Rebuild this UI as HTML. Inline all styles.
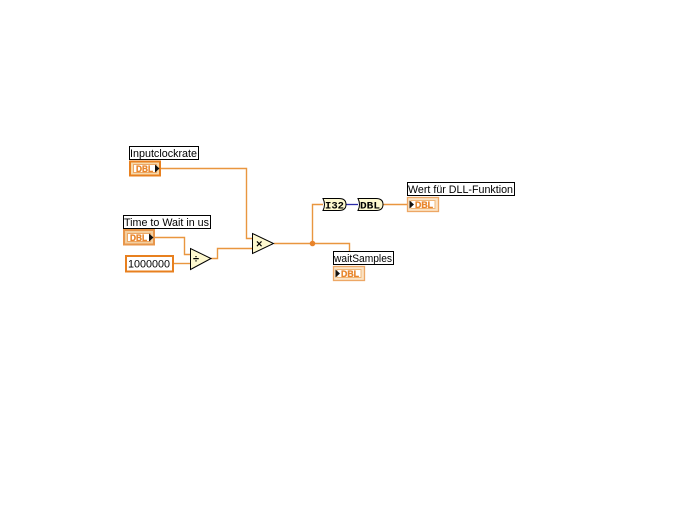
<!DOCTYPE html>
<html>
<head>
<meta charset="utf-8">
<style>
html,body{margin:0;padding:0;background:#fff;}
svg{display:block;}
text{font-family:"Liberation Sans",sans-serif;}
.d{font-size:9px;font-weight:bold;fill:#e8862c;stroke:#e8862c;stroke-width:.35px;}
</style>
</head>
<body>
<svg width="700" height="525" viewBox="0 0 700 525" xmlns="http://www.w3.org/2000/svg">
<rect width="700" height="525" fill="#fff"/>
<!-- wires -->
<g fill="none" stroke="#e9963f" stroke-width="1.4">
<path d="M161 168.500H246.500V238.500H252"/>
<path d="M155 237.500H184.500V254.500H190"/>
<path d="M174 263.500H190"/>
<path d="M211 258.500H217.500V248.500H252"/>
<path d="M274 243.500H349.500V251"/>
<path d="M312.500 243.500V204.500H323"/>
<path d="M383 204.500H407"/>
</g>
<path d="M346 204.500H358" stroke="#2a2aa8" stroke-width="1.300" fill="none"/>
<circle cx="312.500" cy="243.500" r="2.800" fill="#e8832a"/>

<!-- labels -->
<g fill="#fff" stroke="#000" stroke-width="1">
<rect x="129.500" y="146.500" width="69" height="13"/>
<rect x="123.500" y="215.500" width="87" height="13"/>
<rect x="407.500" y="182.500" width="107" height="13"/>
<rect x="333.500" y="251.500" width="60" height="13"/>
</g>
<g font-size="11" fill="#000">
<text x="130" y="157" textLength="67" lengthAdjust="spacingAndGlyphs">Inputclockrate</text>
<text x="124" y="226" textLength="85" lengthAdjust="spacingAndGlyphs">Time to Wait in us</text>
<text x="408" y="193" textLength="105" lengthAdjust="spacingAndGlyphs">Wert für DLL-Funktion</text>
<text x="334" y="262" textLength="58" lengthAdjust="spacingAndGlyphs">waitSamples</text>
</g>

<!-- control terminals -->
<g>
<rect x="130" y="161.500" width="30" height="14" fill="#f6d9ac" stroke="#e8801f" stroke-width="2"/>
<rect x="133.500" y="164.500" width="23" height="8" fill="#fff" stroke="#eda765" stroke-width="1"/>
<text class="d" x="136" y="172" textLength="17" lengthAdjust="spacingAndGlyphs">DBL</text>
<path d="M155 164.500L159.500 168.500L155 172.500Z" fill="#111"/>

<rect x="124" y="230" width="30" height="14.500" fill="#f3cfa0" stroke="#e8964a" stroke-width="2"/>
<rect x="127.500" y="233.500" width="23" height="8" fill="#fff" stroke="#eda765" stroke-width="1"/>
<text class="d" x="130" y="241" textLength="17" lengthAdjust="spacingAndGlyphs">DBL</text>
<path d="M149 233.500L153.500 237.500L149 241.500Z" fill="#111"/>
</g>

<!-- indicators -->
<g>
<rect x="407.500" y="197.500" width="31" height="14" fill="#fbe3c4" stroke="#eda765" stroke-width="1.300"/>
<rect x="411" y="200.500" width="24" height="8" fill="#fff" stroke="#f0b87a" stroke-width="1"/>
<text class="d" x="415" y="208" textLength="18" lengthAdjust="spacingAndGlyphs">DBL</text>
<path d="M409.500 200.500L414 204.500L409.500 208.500Z" fill="#111"/>

<rect x="333.500" y="266.500" width="31" height="14" fill="#fbe3c4" stroke="#eda765" stroke-width="1.300"/>
<rect x="337" y="269.500" width="24" height="8" fill="#fff" stroke="#f0b87a" stroke-width="1"/>
<text class="d" x="341" y="277" textLength="18" lengthAdjust="spacingAndGlyphs">DBL</text>
<path d="M335.500 269.500L340 273.500L335.500 277.500Z" fill="#111"/>
</g>

<!-- constant -->
<rect x="126" y="256" width="47" height="15.500" fill="#fff" stroke="#e8801f" stroke-width="2"/>
<text x="128" y="267.500" font-size="11" fill="#000" textLength="42" lengthAdjust="spacingAndGlyphs">1000000</text>

<!-- primitives -->
<path d="M190.500 248.500V269.500L211 258.500Z" fill="#fdf8cf" stroke="#000" stroke-width="1"/>
<text x="193" y="262.500" font-size="11" font-weight="bold" fill="#000">÷</text>
<path d="M252.500 233.500V253.500L273.500 243.500Z" fill="#fdf8cf" stroke="#000" stroke-width="1"/>
<text x="256" y="247.500" font-size="11" font-weight="bold" fill="#000">×</text>

<!-- conversion nodes -->
<path d="M323 198.500H339Q346 198.500 346 204.500Q346 210.500 339 210.500H323Q326 204.500 323 198.500Z" fill="#fdf8cf" stroke="#000" stroke-width="1"/>
<text x="325" y="208.500" font-size="10" font-weight="bold" fill="#000" style="font-family:'Liberation Mono',monospace" textLength="19" lengthAdjust="spacingAndGlyphs">I32</text>
<path d="M358 198.500H376Q383 198.500 383 204.500Q383 210.500 376 210.500H358Q361 204.500 358 198.500Z" fill="#fdf8cf" stroke="#000" stroke-width="1"/>
<text x="360" y="208.500" font-size="10" font-weight="bold" fill="#000" style="font-family:'Liberation Mono',monospace" textLength="20" lengthAdjust="spacingAndGlyphs">DBL</text>
</svg>
</body>
</html>
